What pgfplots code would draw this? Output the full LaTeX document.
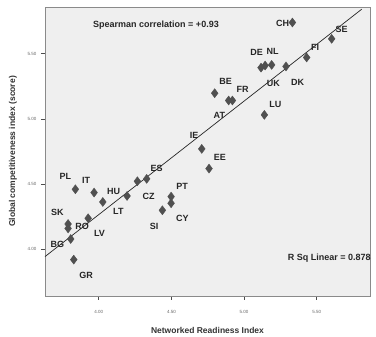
\documentclass[border=0pt]{standalone}
\usepackage{pgfplots}
\pgfplotsset{compat=1.18}
\usepackage{fontspec}
\setmainfont{Liberation Sans}
\definecolor{bgc}{HTML}{EFEFEF}
\definecolor{ptc}{HTML}{505050}
\definecolor{axc}{HTML}{8A8A8A}
\begin{document}
\begin{tikzpicture}
\begin{axis}[
  at={(45pt,41pt)}, anchor=south west,
  scale only axis, width=325pt, height=289pt,
  xmin=3.63, xmax=5.867, ymin=3.642, ymax=5.858,
  axis background/.style={fill=bgc},
  axis line style={axc, line width=0.8pt},
  xtick={4,4.5,5,5.5}, ytick={4,4.5,5,5.5},
  xticklabels={4.00,4.50,5.00,5.50},
  yticklabels={4.00,4.50,5.00,5.50},
  tick style={black!70, line width=0.6pt},
  tick align=outside, major tick length=4pt,
  xtick pos=bottom, ytick pos=left,
  tick label style={font=\fontsize{4.5}{5}\selectfont, text=black!60},
  xticklabel style={yshift=-7pt},
  yticklabel style={xshift=-1pt},
  xlabel={\bfseries Networked Readiness Index},
  ylabel={\bfseries Global competitiveness index (score)},
  label style={font=\fontsize{8.5}{10}\selectfont, text=black!80},
  xlabel style={yshift=-7pt},
  ylabel style={yshift=4pt},
  clip=false,
]
\addplot[only marks, mark=diamond*, mark size=4.5pt, color=ptc, mark options={fill=ptc, draw=ptc}] coordinates {
(5.333,5.739) (5.603,5.614) (5.431,5.471) (5.289,5.402) (5.190,5.414)
(5.117,5.393) (5.145,5.409) (4.798,5.197) (4.894,5.141) (4.920,5.141)
(5.140,5.031) (4.709,4.770) (4.759,4.619) (4.330,4.540) (4.266,4.522)
(4.195,4.409) (4.028,4.363) (3.968,4.435) (3.839,4.460) (4.498,4.404)
(4.498,4.353) (4.438,4.299) (3.927,4.238) (3.789,4.194) (3.789,4.160)
(3.807,4.079) (3.828,3.921)
};
\addplot[black!85, line width=0.7pt] coordinates {(3.63,3.944) (5.81,5.841)};
\begin{scope}[font=\fontsize{9}{10}\selectfont\bfseries, text=black!85]
\node at (axis cs:5.266,5.729) {CH};
\node at (axis cs:5.672,5.688) {SE};
\node at (axis cs:5.489,5.550) {FI};
\node at (axis cs:5.087,5.509) {DE};
\node at (axis cs:5.197,5.517) {NL};
\node at (axis cs:5.202,5.274) {UK};
\node at (axis cs:5.369,5.281) {DK};
\node at (axis cs:4.874,5.284) {BE};
\node at (axis cs:4.991,5.228) {FR};
\node at (axis cs:5.216,5.113) {LU};
\node at (axis cs:4.830,5.023) {AT};
\node at (axis cs:4.656,4.870) {IE};
\node at (axis cs:4.833,4.701) {EE};
\node at (axis cs:4.399,4.621) {ES};
\node at (axis cs:4.573,4.481) {PT};
\node at (axis cs:4.344,4.404) {CZ};
\node at (axis cs:4.576,4.238) {CY};
\node at (axis cs:4.381,4.179) {SI};
\node at (axis cs:3.771,4.558) {PL};
\node at (axis cs:3.913,4.532) {IT};
\node at (axis cs:4.103,4.442) {HU};
\node at (axis cs:4.135,4.294) {LT};
\node at (axis cs:3.716,4.286) {SK};
\node at (axis cs:3.885,4.174) {RO};
\node at (axis cs:4.005,4.123) {LV};
\node at (axis cs:3.716,4.038) {BG};
\node at (axis cs:3.913,3.803) {GR};
\node at (axis cs:4.394,5.721) {Spearman correlation = +0.93};
\node at (axis cs:5.587,3.931) {R Sq Linear = 0.878};
\end{scope}
\end{axis}
\pgfresetboundingbox
\path[use as bounding box] (0pt,0pt) rectangle (376pt,337pt);
\end{tikzpicture}
\end{document}
